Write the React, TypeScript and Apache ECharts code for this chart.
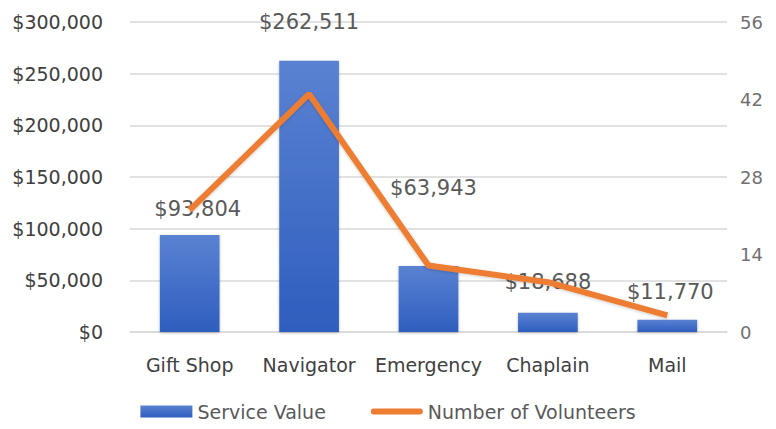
import React, { useEffect, useRef } from "react";
import * as echarts from "echarts";

const categories = ["Gift Shop", "Navigator", "Emergency", "Chaplain", "Mail"];
const serviceValue = [93804, 262511, 63943, 18688, 11770];
const volunteers = [22, 43, 12, 9, 3];
const leftTicks = { min: 0, max: 300000, interval: 50000 };
const rightTicks = { min: 0, max: 56, interval: 14 };
const labelOffsets = [
  [8, -16],
  [0, -28],
  [5, -67],
  [0, -20],
  [3, -17],
];

const FONT = "DejaVu Sans";
const LINE_ICON = "path://M3,0 L51,0 A3,3 0 0 1 51,6 L3,6 A3,3 0 0 1 3,0 Z";

export default function App() {
  const ref = useRef<HTMLDivElement>(null);
  useEffect(() => {
    if (!ref.current) return;
    const chart = echarts.init(ref.current, null, { renderer: "svg" });
    chart.setOption({
      animation: false,
      backgroundColor: "#ffffff",
      textStyle: { fontFamily: FONT },
      grid: { left: 130, right: 49, top: 22, bottom: 97, containLabel: false },
      legend: {
        bottom: 3,
        left: "center",
        itemWidth: 52,
        itemHeight: 12,
        itemGap: 45,
        symbolKeepAspect: true,
        textStyle: { fontFamily: FONT, fontSize: 19, color: "#595959" },
        data: [
          { name: "Service Value", icon: "rect" },
          { name: "Number of Volunteers", icon: LINE_ICON },
        ],
      },
      xAxis: {
        type: "category",
        data: categories,
        axisLine: { lineStyle: { color: "#d9d9d9", width: 1.5 } },
        axisTick: { show: false },
        axisLabel: { interval: 0, fontFamily: FONT, fontSize: 19, color: "#404040", margin: 23 },
      },
      yAxis: [
        {
          type: "value",
          min: leftTicks.min,
          max: leftTicks.max,
          interval: leftTicks.interval,
          splitLine: { lineStyle: { color: "#d9d9d9", width: 1.5 } },
          axisLine: { show: false },
          axisTick: { show: false },
          axisLabel: {
            fontFamily: FONT,
            fontSize: 19,
            color: "#404040",
            margin: 27,
            formatter: (v: number) => "$" + v.toLocaleString("en-US"),
          },
        },
        {
          type: "value",
          min: rightTicks.min,
          max: rightTicks.max,
          interval: rightTicks.interval,
          splitLine: { show: false },
          axisLine: { show: false },
          axisTick: { show: false },
          axisLabel: { fontFamily: FONT, fontSize: 18, color: "#707070", margin: 13 },
        },
      ],
      series: [
        {
          name: "Service Value",
          type: "bar",
          barWidth: "50%",
          yAxisIndex: 0,
          itemStyle: {
            color: new echarts.graphic.LinearGradient(0, 0, 0, 1, [
              { offset: 0, color: "#5a82d2" },
              { offset: 1, color: "#2e5ebe" },
            ]),
            shadowBlur: 3,
            shadowColor: "rgba(0,0,0,0.25)",
            shadowOffsetY: 1,
          },
          data: serviceValue.map((v, i) => ({
            value: v,
            label: {
              show: true,
              position: "top",
              distance: 0,
              offset: labelOffsets[i],
              fontFamily: FONT,
              fontSize: 21,
              color: "#595959",
              formatter: (p: any) => "$" + Number(p.value).toLocaleString("en-US"),
            },
          })),
        },
        {
          name: "Number of Volunteers",
          type: "line",
          yAxisIndex: 1,
          showSymbol: false,
          symbol: "none",
          z: 5,
          lineStyle: {
            color: "#ed7d31",
            width: 6,
            shadowBlur: 3,
            shadowColor: "rgba(0,0,0,0.2)",
            shadowOffsetY: 1,
          },
          itemStyle: { color: "#ed7d31" },
          data: volunteers,
        },
      ],
    });
    return () => chart.dispose();
  }, []);
  return <div ref={ref} style={{ width: 776, height: 429, position: "absolute", left: 0, top: 0 }} />;
}
